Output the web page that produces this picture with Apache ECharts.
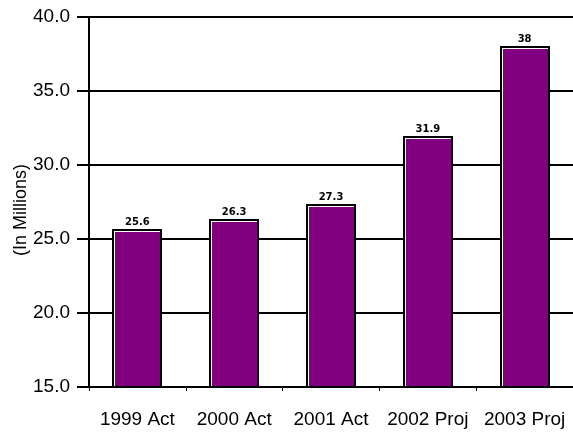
<!DOCTYPE html>
<html>
<head>
<meta charset="utf-8">
<script src="https://cdn.jsdelivr.net/npm/echarts@6/dist/echarts.min.js"></script>
<style>
html, body { margin: 0; padding: 0; background: #fff; }
#main { width: 573px; height: 432px; }
</style>
</head>
<body>
<div id="main"></div>
<script>
// data
var categories = ['1999 Act', '2000 Act', '2001 Act', '2002 Proj', '2003 Proj'];
var values = [25.6, 26.3, 27.3, 31.9, 38];
var valueLabels = ['25.6', '26.3', '27.3', '31.9', '38'];
var yMin = 15, yMax = 40, yStep = 5;

var myChart = echarts.init(document.getElementById('main'));

// bar = black outline, thin white inner line on top/left, purple fill
function renderBar(params, api) {
    var idx = api.value(0);
    var top = api.coord([idx, api.value(1)]);
    var base = api.coord([idx, yMin]);
    var w = Math.round(api.size([1, 0])[0] * 0.52);
    var x0 = Math.round(top[0] - w / 2);
    var y0 = Math.round(top[1]);
    var h = Math.round(base[1]) - 1 - y0;
    return {
        type: 'group',
        children: [
            { type: 'rect', shape: { x: x0, y: y0 - 1, width: w, height: h + 1 }, style: { fill: '#000' } },
            { type: 'rect', shape: { x: x0 + 2, y: y0 + 1, width: w - 4, height: h - 1 }, style: { fill: '#fff' } },
            { type: 'rect', shape: { x: x0 + 3, y: y0 + 2, width: w - 5, height: h - 2 }, style: { fill: '#800080' } },
            {
                type: 'text', x: top[0], y: y0 - 3,
                style: {
                    text: valueLabels[params.dataIndex], fill: '#000',
                    font: 'bold 10px "DejaVu Sans"', align: 'center', verticalAlign: 'bottom'
                }
            }
        ]
    };
}

var option = {
    backgroundColor: '#fff',
    animation: false,
    textStyle: { fontFamily: '"Liberation Sans", Arial, sans-serif' },
    grid: { left: 89, right: 0, top: 17, bottom: 45, outerBoundsMode: 'none', containLabel: false },
    xAxis: [
        {
            type: 'category',
            data: categories,
            axisLine: { lineStyle: { color: '#000', width: 2 } },
            axisTick: { alignWithLabel: true, length: 12, lineStyle: { color: '#000', width: 2 } },
            axisLabel: { color: '#000', fontSize: 19, margin: 23, interval: 0 },
            splitLine: { show: false }
        },
        {
            // small ticks at category edges
            type: 'category',
            data: categories,
            position: 'bottom',
            axisLine: { show: false },
            axisTick: { show: true, length: 4, lineStyle: { color: '#000', width: 1 } },
            axisLabel: { show: false },
            splitLine: { show: false }
        }
    ],
    yAxis: {
        type: 'value',
        min: yMin,
        max: yMax,
        interval: yStep,
        name: '(In Millions)',
        nameLocation: 'middle',
        nameGap: 59,
        nameMoveOverlap: false,
        nameTextStyle: { color: '#000', fontSize: 18, padding: [0, 16, 0, 0] },
        axisLine: { show: true, lineStyle: { color: '#000', width: 2 } },
        axisTick: { show: true, length: 12, lineStyle: { color: '#000', width: 2 } },
        axisLabel: {
            color: '#000', fontSize: 19, margin: 19,
            formatter: function (v) { return v.toFixed(1); }
        },
        splitLine: { show: true, lineStyle: { color: '#000', width: 2 } }
    },
    series: [
        {
            type: 'custom',
            renderItem: renderBar,
            encode: { x: 0, y: 1 },
            data: values.map(function (v, i) { return [i, v]; })
        }
    ]
};

myChart.setOption(option);
</script>
</body>
</html>
